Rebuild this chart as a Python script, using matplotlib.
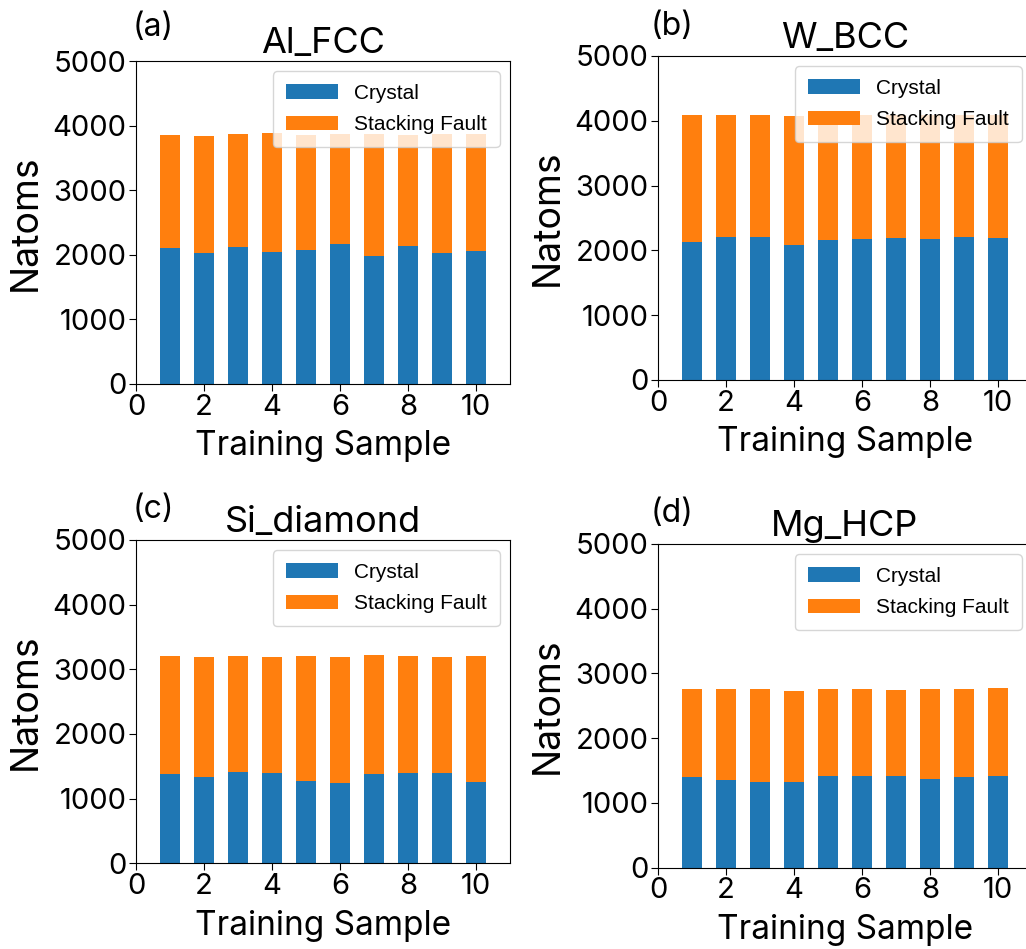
import matplotlib
matplotlib.use("Agg")
import matplotlib.pyplot as plt
import numpy as np

plt.rcParams['font.family'] = ['Inter', 'DejaVu Sans']

samples = np.arange(1, 11)

# atom counts per training sample: crystal part and total (crystal + stacking fault)
al_crystal = [2108, 2026, 2119, 2046, 2072, 2170, 1985, 2129, 2031, 2057]
al_total = [3856, 3846, 3866, 3880, 3860, 3870, 3866, 3862, 3866, 3868]

w_crystal = [2135, 2212, 2207, 2083, 2160, 2171, 2186, 2171, 2212, 2186]
w_total = [4084, 4084, 4084, 4074, 4084, 4084, 4084, 4084, 4084, 4084]

si_crystal = [1376, 1330, 1418, 1402, 1268, 1242, 1376, 1402, 1392, 1253]
si_total = [3201, 3191, 3211, 3191, 3201, 3186, 3216, 3201, 3186, 3211]

mg_crystal = [1395, 1359, 1329, 1318, 1416, 1416, 1416, 1370, 1401, 1421]
mg_total = [2755, 2755, 2755, 2734, 2755, 2755, 2745, 2755, 2765, 2770]

titles = ["Al_FCC", "W_BCC", "Si_diamond", "Mg_HCP"]
tags = ["(a)", "(b)", "(c)", "(d)"]

fig = plt.figure(figsize=(10.26, 9.49), dpi=100)

# [left, bottom, width, height] for each panel
boxes = [
    [0.1326, 0.5954, 0.3645, 0.3403],
    [0.6413, 0.5996, 0.3645, 0.3414],
    [0.1326, 0.0903, 0.3645, 0.3407],
    [0.6413, 0.0857, 0.3645, 0.3411],
]
tag_pos = [(-0.01, 1.055), (-0.02, 1.042), (-0.01, 1.045), (-0.02, 1.045)]

data = [(al_crystal, al_total), (w_crystal, w_total),
        (si_crystal, si_total), (mg_crystal, mg_total)]

for i, (crystal, total) in enumerate(data):
    ax = fig.add_axes(boxes[i])
    crystal = np.array(crystal)
    fault = np.array(total) - crystal
    ax.bar(samples, crystal, width=0.6, color='#1f77b4', label='Crystal')
    ax.bar(samples, fault, width=0.6, bottom=crystal, color='#ff7f0e', label='Stacking Fault')
    ax.set_xlim(0, 11)
    ax.set_ylim(0, 5000)
    ax.set_xticks([0, 2, 4, 6, 8, 10])
    ax.set_yticks([0, 1000, 2000, 3000, 4000, 5000])
    ax.tick_params(labelsize=21, length=5, pad=2)
    ax.set_xlabel('Training Sample', fontsize=24, labelpad=7)
    ax.set_ylabel('Natoms', fontsize=27, labelpad=6)
    ax.set_title(titles[i], fontsize=26, pad=6)
    ax.text(tag_pos[i][0], tag_pos[i][1], tags[i], transform=ax.transAxes,
            fontsize=23, ha='left', va='bottom')
    ax.legend(loc='upper right', prop={'family': ['Liberation Sans'], 'size': 15},
              handlelength=2.5, borderpad=0.6, labelspacing=0.6)

fig.savefig('out.png', dpi=100)
